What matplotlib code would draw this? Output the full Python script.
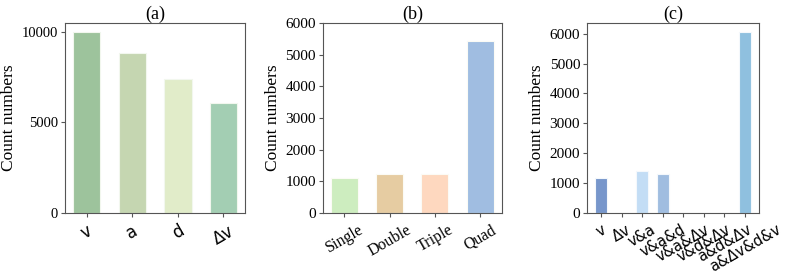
import matplotlib
matplotlib.use("Agg")
import matplotlib.pyplot as plt
import numpy as np

plt.rcParams['font.family'] = 'serif'
plt.rcParams['font.serif'] = ['Liberation Serif', 'DejaVu Serif']

# (a) single dimensions
a_labels = ['v', 'a', 'd', 'Δv']
a_values = [9980, 8800, 7380, 6050]
a_colors = ['#9dc39c', '#c5d6b1', '#e1ecc9', '#a3ceb3']

# (b) number of annotations
b_labels = ['Single', 'Double', 'Triple', 'Quad']
b_values = [1105, 1240, 1245, 5420]
b_colors = ['#cdedbf', '#e6cca2', '#fed8bf', '#a0bde1']

# (c) combinations
c_labels = ['v', 'Δv', 'v&a', 'v&a&d', 'v&a&Δv', 'v&d&Δv', 'a&d&Δv', 'a&Δv&d&v']
c_values = [1180, 0, 1395, 1315, 0, 0, 0, 6055]
c_colors = ['#7796cb', '#7796cb', '#c3ddf5', '#a0bde0', '#a0bde0', '#a0bde0', '#a0bde0', '#8fc0df']

fig = plt.figure(figsize=(7.89, 2.78), dpi=100)
ax_a = fig.add_axes([0.082, 0.234, 0.229, 0.683])
ax_b = fig.add_axes([0.409, 0.234, 0.227, 0.683])
ax_c = fig.add_axes([0.744, 0.234, 0.218, 0.683])

def style(ax, title, ysize=11):
    ax.set_title(title, fontsize=13, pad=2)
    ax.set_ylabel('Count numbers', fontsize=12.5, labelpad=3)
    ax.tick_params(axis='y', labelsize=ysize, length=3, pad=2, color='#555555')
    ax.tick_params(axis='x', length=3, color='#555555')
    for s in ax.spines.values():
        s.set_color('#555555')

xa = np.arange(len(a_labels))
ax_a.bar(xa, a_values, width=0.6, color=a_colors, edgecolor='#f2f7ee', linewidth=0.8)
ax_a.set_xticks(xa)
ax_a.set_xticklabels(a_labels, rotation=30, fontsize=12, family='DejaVu Sans')
ax_a.set_yticks([0, 5000, 10000])
style(ax_a, '(a)', ysize=10.5)

xb = np.arange(len(b_labels))
ax_b.bar(xb, b_values, width=0.6, color=b_colors, edgecolor='#fbfbf5', linewidth=0.8)
ax_b.set_xticks(xb)
ax_b.set_xticklabels(b_labels, rotation=30, fontsize=11.5)
ax_b.set_ylim(0, 6000)
style(ax_b, '(b)')

xc = np.arange(len(c_labels))
ax_c.bar(xc, c_values, width=0.6, color=c_colors, edgecolor='#f4f8fc', linewidth=0.8)
ax_c.set_xticks(xc)
ax_c.set_xticklabels(c_labels, rotation=30, fontsize=10.5, family='DejaVu Sans')
ax_c.set_yticks(np.arange(0, 7000, 1000))
style(ax_c, '(c)')

fig.savefig('out.png', dpi=100)
